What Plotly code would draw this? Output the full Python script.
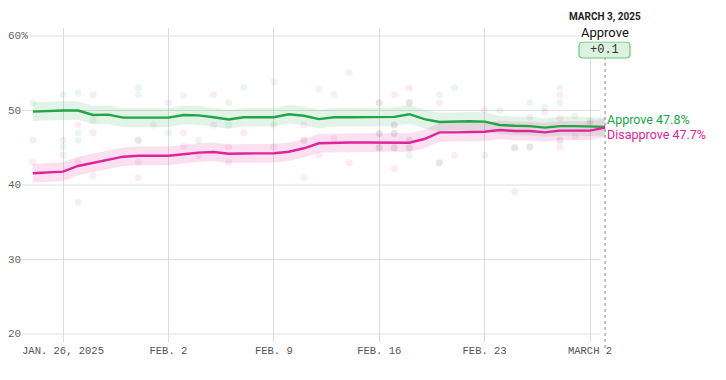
import plotly.graph_objects as go
import pandas as pd

# ---------------- data ----------------
trend_start = "2025-01-24"
trend_end = "2025-03-03"
approve_trend = [49.85, 49.95, 50.0, 50.0, 49.4, 49.45, 49.05, 49.05, 49.05, 49.05,
                 49.4, 49.35, 49.1, 48.8, 49.1, 49.1, 49.1, 49.5, 49.3, 48.85,
                 49.1, 49.1, 49.1, 49.1, 49.15, 49.5, 48.85, 48.45, 48.55, 48.55,
                 48.5, 48.05, 47.95, 47.9, 47.7, 47.9, 47.9, 47.85, 47.8]
disapprove_trend = [41.57, 41.68, 41.79, 42.55, 43.0, 43.36, 43.8, 43.93, 43.93, 43.93,
                    44.12, 44.34, 44.43, 44.2, 44.23, 44.26, 44.26, 44.47, 44.93, 45.6,
                    45.7, 45.7, 45.7, 45.7, 45.7, 45.68, 46.17, 47.07, 47.07, 47.1,
                    47.15, 47.38, 47.25, 47.25, 47.07, 47.3, 47.3, 47.3, 47.7]
band_half = 1.25

approve_poll_dates = ["2025-01-24", "2025-01-26", "2025-01-27", "2025-01-28", "2025-01-31", "2025-01-31",
                      "2025-02-03", "2025-01-28", "2025-01-27", "2025-01-27", "2025-01-26", "2025-02-01",
                      "2025-02-02", "2025-02-04", "2025-01-31", "2025-02-06", "2025-02-06", "2025-02-07",
                      "2025-02-09", "2025-02-12", "2025-02-13", "2025-02-14", "2025-02-09", "2025-02-11",
                      "2025-02-16", "2025-02-17", "2025-02-16", "2025-02-17", "2025-02-16", "2025-02-17",
                      "2025-02-18", "2025-02-18", "2025-02-18", "2025-02-18", "2025-02-20", "2025-02-21",
                      "2025-02-20", "2025-02-23", "2025-02-24", "2025-02-25", "2025-02-26", "2025-02-26",
                      "2025-02-27", "2025-02-28", "2025-02-28", "2025-02-28", "2025-03-01", "2025-03-02"]
approve_poll_vals = [51.0, 52.1, 52.3, 52.1, 53.1, 52.1,
                     52.0, 48.7, 47.0, 46.0, 45.1, 48.05,
                     47.0, 46.0, 46.0, 48.05, 51.05, 53.1,
                     53.9, 52.9, 52.1, 55.1, 48.05, 46.0,
                     51.05, 48.05, 46.9, 46.9, 45.0, 45.0,
                     46.0, 45.0, 44.0, 51.05, 52.1, 53.1,
                     43.0, 44.0, 50.0, 45.0, 45.1, 51.05,
                     50.4, 53.1, 51.05, 46.0, 49.3, 48.6]

disapprove_poll_dates = ["2025-01-24", "2025-01-26", "2025-01-27", "2025-01-28", "2025-02-02", "2025-02-03",
                         "2025-02-05", "2025-02-05", "2025-02-03", "2025-01-24", "2025-01-26", "2025-01-27",
                         "2025-01-28", "2025-01-31", "2025-01-31", "2025-02-04", "2025-02-06", "2025-02-06",
                         "2025-02-07", "2025-01-27", "2025-01-31", "2025-02-09", "2025-02-11", "2025-02-12",
                         "2025-02-11", "2025-02-17", "2025-02-11", "2025-02-13", "2025-02-16", "2025-02-17",
                         "2025-02-18", "2025-02-20", "2025-02-27", "2025-02-26", "2025-02-16", "2025-02-17",
                         "2025-02-16", "2025-02-17", "2025-02-18", "2025-02-18", "2025-02-14", "2025-02-17",
                         "2025-02-20", "2025-02-21", "2025-02-25", "2025-02-26", "2025-02-25", "2025-02-23",
                         "2025-02-28", "2025-02-28", "2025-02-28", "2025-02-28", "2025-02-18", "2025-03-01",
                         "2025-03-02"]
disapprove_poll_vals = [46.0, 46.0, 48.05, 47.0, 51.0, 47.0,
                        52.1, 48.05, 45.2, 43.1, 44.0, 43.1,
                        41.2, 43.05, 41.0, 44.0, 45.1, 43.05,
                        47.0, 37.7, 46.0, 45.2, 41.0, 44.0,
                        46.0, 52.1, 48.05, 46.2, 51.05, 48.05,
                        53.0, 51.05, 49.8, 49.1, 46.9, 46.9,
                        45.0, 45.0, 46.0, 45.0, 43.0, 42.2,
                        43.0, 44.0, 45.0, 45.1, 39.1, 50.1,
                        52.1, 49.0, 46.0, 45.06, 51.05, 46.5,
                        48.3]

x_tick_dates = ["2025-01-26", "2025-02-02", "2025-02-09", "2025-02-16", "2025-02-23", "2025-03-02"]
x_tick_labels = ["JAN. 26, 2025", "FEB. 2", "FEB. 9", "FEB. 16", "FEB. 23", "MARCH 2"]
y_tick_vals = [60, 50, 40, 30, 20]
y_tick_labels = ["60%", "50", "40", "30", "20"]

headline_date = "MARCH 3, 2025"
headline_label = "Approve"
headline_margin = "+0.1"
end_labels = ["Approve 47.8%", "Disapprove 47.7%"]

# ---------------- style ----------------
GREEN = "#21a546"
PINK = "#e0239b"
MONO = "Liberation Mono, DejaVu Sans Mono, monospace"
SANS = "Roboto, Noto Sans, sans-serif"

# the page body adds an 8px margin, so the figure is drawn 8px in
OFF = 8
W, H = 726 - OFF, 380 - OFF
# plot area in page pixels: x 22..606, y 28..342
P_L, P_R, P_T, P_B = 22, 606, 28, 342
ML, MT = P_L - OFF, P_T - OFF
MR, MB = W - (P_R - OFF), H - (P_B - OFF)
PW, PH = P_R - P_L, P_B - P_T


def px_x(p):
    return (p - P_L) / PW


def px_y(p):
    return (P_B - p) / PH


dates = pd.date_range(trend_start, trend_end, freq="D")
app_up = [v + band_half for v in approve_trend]
app_lo = [v - band_half for v in approve_trend]
dis_up = [v + band_half for v in disapprove_trend]
dis_lo = [v - band_half for v in disapprove_trend]

fig = go.Figure()

# poll dots
fig.add_trace(go.Scatter(x=approve_poll_dates, y=approve_poll_vals, mode="markers",
                         marker=dict(size=7, color=GREEN, opacity=0.09, line=dict(width=0)),
                         hoverinfo="skip", showlegend=False))
fig.add_trace(go.Scatter(x=disapprove_poll_dates, y=disapprove_poll_vals, mode="markers",
                         marker=dict(size=7, color=PINK, opacity=0.09, line=dict(width=0)),
                         hoverinfo="skip", showlegend=False))

# bands
for up, lo, col in [(app_up, app_lo, "rgba(33,165,70,0.13)"), (dis_up, dis_lo, "rgba(224,35,155,0.14)")]:
    fig.add_trace(go.Scatter(x=list(dates) + list(dates[::-1]), y=up + lo[::-1],
                             fill="toself", fillcolor=col, line=dict(width=0),
                             mode="lines", hoverinfo="skip", showlegend=False))

# trend lines
fig.add_trace(go.Scatter(x=dates, y=approve_trend, mode="lines",
                         line=dict(color=GREEN, width=2.4), showlegend=False))
fig.add_trace(go.Scatter(x=dates, y=disapprove_trend, mode="lines",
                         line=dict(color=PINK, width=2.4), showlegend=False))

shapes = []
# horizontal gridlines
for v, lab in zip(y_tick_vals, y_tick_labels):
    x0 = px_x(26) if lab.endswith("%") else 0
    shapes.append(dict(type="line", xref="paper", yref="y", x0=x0, x1=px_x(600), y0=v, y1=v,
                       line=dict(color="#dedede", width=1), layer="below"))
# dotted current-date line
shapes.append(dict(type="line", xref="x", yref="paper", x0=trend_end, x1=trend_end,
                   y0=px_y(348), y1=px_y(58), line=dict(color="#888888", width=1, dash="dot")))
# rounded box
bx0, bx1, by0, by1 = px_x(579), px_x(630), px_y(58), px_y(42)
rx, ry = 4 / PW, 4 / PH
path = (f"M {bx0+rx},{by0} L {bx1-rx},{by0} Q {bx1},{by0} {bx1},{by0+ry} "
        f"L {bx1},{by1-ry} Q {bx1},{by1} {bx1-rx},{by1} L {bx0+rx},{by1} "
        f"Q {bx0},{by1} {bx0},{by1-ry} L {bx0},{by0+ry} Q {bx0},{by0} {bx0+rx},{by0} Z")
shapes.append(dict(type="path", xref="paper", yref="paper", path=path,
                   fillcolor="#dcf1df", line=dict(color="#6cc57d", width=1.2)))

annotations = []
for v, lab in zip(y_tick_vals, y_tick_labels):
    annotations.append(dict(xref="paper", yref="y", x=px_x(6), y=v, text=lab, showarrow=False,
                            xanchor="left", yanchor="middle",
                            font=dict(family=MONO, size=11, color="#666666")))
annotations.append(dict(xref="paper", yref="paper", x=px_x(604.5), y=px_y(17), text=f"<b>{headline_date}</b>",
                        showarrow=False, xanchor="center", yanchor="middle",
                        font=dict(family=SANS, size=10, color="#222222")))
annotations.append(dict(xref="paper", yref="paper", x=px_x(604.5), y=px_y(32), text=headline_label,
                        showarrow=False, xanchor="center", yanchor="middle", bgcolor="white",
                        font=dict(family=SANS, size=13, color="#111111")))
annotations.append(dict(xref="paper", yref="paper", x=px_x(604.5), y=px_y(50), text=headline_margin,
                        showarrow=False, xanchor="center", yanchor="middle",
                        font=dict(family=MONO, size=12, color="#333333")))
annotations.append(dict(xref="paper", yref="paper", x=px_x(605), y=px_y(119.5), text=end_labels[0],
                        showarrow=False, xanchor="left", yanchor="middle",
                        font=dict(family=SANS, size=12.5, color=GREEN)))
annotations.append(dict(xref="paper", yref="paper", x=px_x(605), y=px_y(134), text=end_labels[1],
                        showarrow=False, xanchor="left", yanchor="middle",
                        font=dict(family=SANS, size=12.5, color=PINK)))

day_px = 527 / 35.0
x_left = pd.Timestamp("2025-01-26") - pd.Timedelta(days=(63 - P_L) / day_px)
x_right = pd.Timestamp("2025-01-26") + pd.Timedelta(days=(P_R - 63) / day_px)
y_px = 298 / 40.0
y_bottom = 20 - (P_B - 334) / y_px
y_top = 60 + (36 - P_T) / y_px

fig.update_layout(
    width=W, height=H, autosize=False,
    margin=dict(l=ML, r=MR, t=MT, b=MB, pad=0),
    paper_bgcolor="white", plot_bgcolor="white",
    showlegend=False,
    shapes=shapes, annotations=annotations,
    xaxis=dict(type="date", range=[x_left, x_right], tickmode="array",
               tickvals=x_tick_dates, ticktext=x_tick_labels,
               showgrid=True, gridcolor="#dcdcdc", gridwidth=1,
               zeroline=False, showline=False, ticks="",
               tickfont=dict(family=MONO, size=10.5, color="#555555")),
    yaxis=dict(range=[y_bottom, y_top], showgrid=False, zeroline=False,
               showline=False, showticklabels=False, ticks=""),
)

fig.write_html("out.html")
